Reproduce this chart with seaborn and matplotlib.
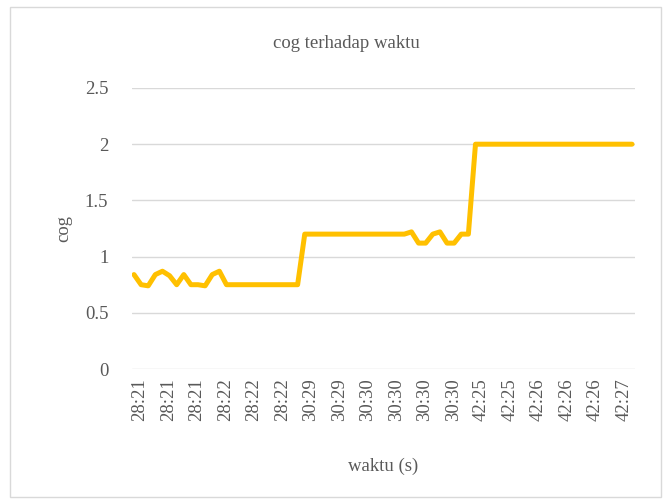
import numpy as np
import pandas as pd
import matplotlib
matplotlib.use("Agg")
import matplotlib.pyplot as plt
from matplotlib.patches import Rectangle
from matplotlib.ticker import FuncFormatter
import seaborn as sns

# cog readings, one per sample
cog = [0.84, 0.75, 0.74, 0.84, 0.87, 0.83, 0.75, 0.84, 0.75, 0.75,
       0.74, 0.84, 0.87, 0.75, 0.75, 0.75, 0.75, 0.75, 0.75, 0.75,
       0.75, 0.75, 0.75, 0.75,
       1.2, 1.2, 1.2, 1.2, 1.2, 1.2, 1.2, 1.2, 1.2, 1.2,
       1.2, 1.2, 1.2, 1.2, 1.2, 1.22, 1.12, 1.12, 1.2, 1.22,
       1.12, 1.12, 1.2, 1.2,
       2.0, 2.0, 2.0, 2.0, 2.0, 2.0, 2.0, 2.0, 2.0, 2.0,
       2.0, 2.0, 2.0, 2.0, 2.0, 2.0, 2.0, 2.0, 2.0, 2.0,
       2.0, 2.0, 2.0]

# labels shown on the axis (every 4th sample)
tick_every = 4
tick_labels = ['28:21', '28:21', '28:21', '28:22', '28:22', '28:22',
               '30:29', '30:29', '30:30', '30:30', '30:30', '30:30',
               '42:25', '42:25', '42:26', '42:26', '42:26', '42:27']

df = pd.DataFrame({'sample': np.arange(len(cog)), 'cog': cog})

sns.set_theme(style='white')
plt.rcParams['font.family'] = ['Liberation Serif', 'DejaVu Serif']
grey = '#595959'

fig = plt.figure(figsize=(6.63, 5.0), dpi=100)
fig.patches.append(Rectangle((10 / 663, 3 / 500), 651 / 663, 490 / 500,
                             transform=fig.transFigure, fill=False,
                             edgecolor='#d9d9d9', linewidth=1))
ax = fig.add_axes([132 / 663, 131 / 500, 503 / 663, 281 / 500])

sns.lineplot(data=df, x='sample', y='cog', ax=ax, color='#FFC000',
             linewidth=3.6, solid_joinstyle='round', solid_capstyle='round')

ax.set_xlim(-0.28, len(cog) - 1 + 0.42)
ax.set_ylim(0, 2.5)
ax.set_yticks([0, 0.5, 1, 1.5, 2, 2.5])
ax.yaxis.set_major_formatter(FuncFormatter(lambda v, p: '{:g}'.format(v)))
# excel puts the rotated labels a little right of their sample
ax.set_xticks(np.arange(len(tick_labels)) * tick_every + 0.85)
ax.set_xticklabels(tick_labels, rotation=90)

ax.grid(axis='y', color='#d9d9d9', linewidth=1)
ax.set_axisbelow(True)
for s in ax.spines.values():
    s.set_visible(False)
ax.tick_params(axis='both', length=0, labelsize=13.5, labelcolor=grey)
ax.tick_params(axis='y', pad=17)
ax.tick_params(axis='x', pad=7)

ax.set_xlabel('waktu (s)', fontsize=13.5, color=grey, labelpad=26)
ax.set_ylabel('cog', fontsize=13.5, color=grey, labelpad=9)
fig.text(346 / 663, 1 - 43 / 500, 'cog terhadap waktu', ha='center',
         va='center', fontsize=13.5, color=grey)

fig.savefig('out.png', dpi=100)
